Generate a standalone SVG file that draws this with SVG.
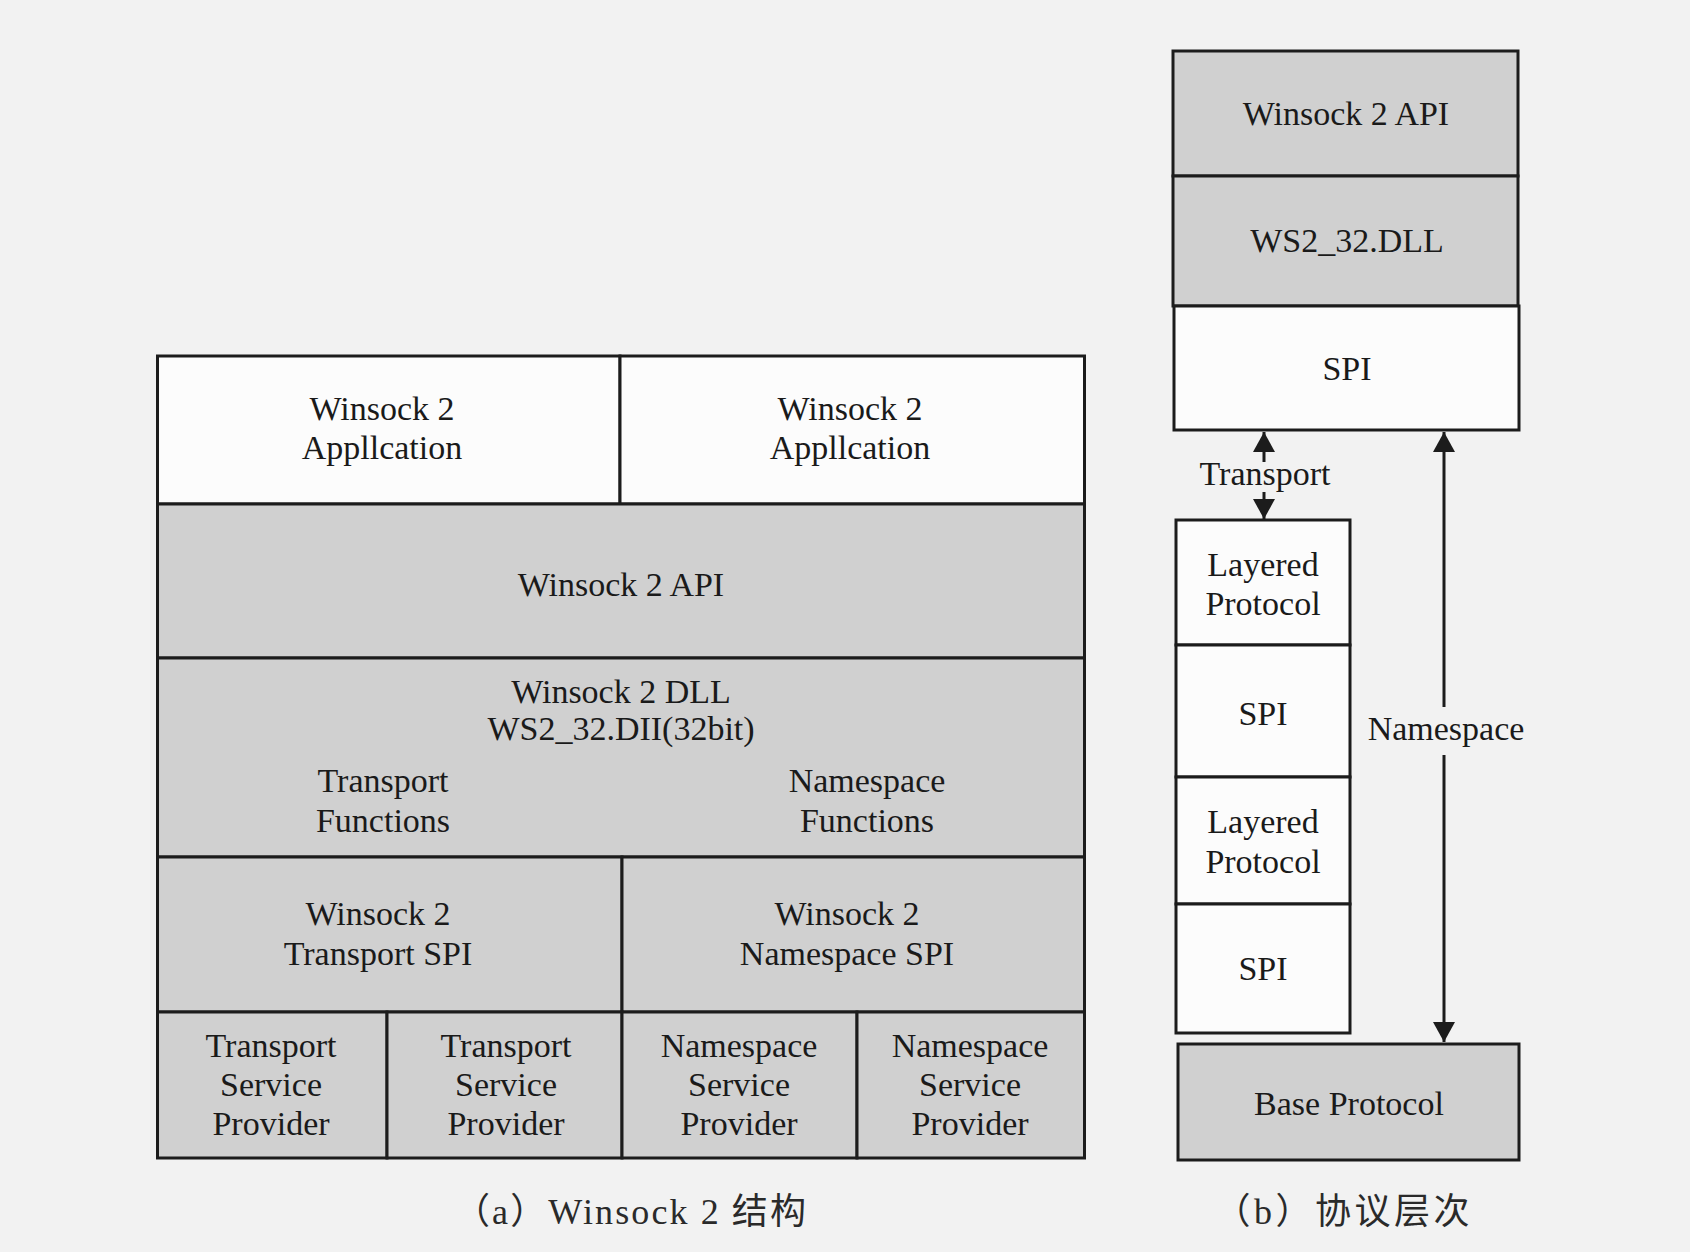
<svg xmlns="http://www.w3.org/2000/svg" width="1690" height="1252" viewBox="0 0 1690 1252">
  <defs>
    <marker id="head" markerUnits="userSpaceOnUse" markerWidth="24" markerHeight="24" refX="20" refY="11" orient="auto">
      <path d="M0,0 L20,11 L0,22 z" fill="#1c1c1c"/>
    </marker>
    <style>
      .box { stroke: #1c1c1c; stroke-width: 3; }
      .gray { fill: #d0d0d0; }
      .white { fill: #fcfcfc; }
      .t { font-family: 'Liberation Serif', 'Times New Roman', serif; font-size: 34px; fill: #1a1a1a; text-anchor: middle; }
      .cap { font-family: 'Liberation Serif', 'Noto Sans CJK SC', serif; font-size: 36px; fill: #2a2a2a; text-anchor: middle; }
      .conn { stroke: #1c1c1c; stroke-width: 3; fill: none; marker-end: url(#head); }
    </style>
  </defs>
  <rect x="0" y="0" width="1690" height="1252" fill="#f2f2f2"/>

  <!-- (a) Winsock 2 structure -->
  <g id="app1">
    <rect class="box white" x="157.5" y="356" width="462.5" height="148"/>
    <text class="t" x="382" y="420">Winsock 2</text>
    <text class="t" x="382" y="459">Appllcation</text>
  </g>
  <g id="app2">
    <rect class="box white" x="620" y="356" width="464.5" height="148"/>
    <text class="t" x="850" y="420">Winsock 2</text>
    <text class="t" x="850" y="459">Appllcation</text>
  </g>
  <g id="api">
    <rect class="box gray" x="157.5" y="504" width="927" height="154"/>
    <text class="t" x="621" y="596">Winsock 2 API</text>
  </g>
  <g id="dll">
    <rect class="box gray" x="157.5" y="658" width="927" height="199"/>
    <text class="t" x="621" y="703">Winsock 2 DLL</text>
    <text class="t" x="621" y="740">WS2_32.DII(32bit)</text>
    <text class="t" x="383" y="792">Transport</text>
    <text class="t" x="383" y="832">Functions</text>
    <text class="t" x="867" y="792">Namespace</text>
    <text class="t" x="867" y="832">Functions</text>
  </g>
  <g id="transport-spi">
    <rect class="box gray" x="157.5" y="857" width="464.5" height="155"/>
    <text class="t" x="378" y="925">Winsock 2</text>
    <text class="t" x="378" y="965">Transport SPI</text>
  </g>
  <g id="namespace-spi">
    <rect class="box gray" x="622" y="857" width="462.5" height="155"/>
    <text class="t" x="847" y="925">Winsock 2</text>
    <text class="t" x="847" y="965">Namespace SPI</text>
  </g>
  <g id="tsp1">
    <rect class="box gray" x="157.5" y="1012" width="229.5" height="146"/>
    <text class="t" x="271" y="1057">Transport</text>
    <text class="t" x="271" y="1096">Service</text>
    <text class="t" x="271" y="1135">Provider</text>
  </g>
  <g id="tsp2">
    <rect class="box gray" x="387" y="1012" width="235" height="146"/>
    <text class="t" x="506" y="1057">Transport</text>
    <text class="t" x="506" y="1096">Service</text>
    <text class="t" x="506" y="1135">Provider</text>
  </g>
  <g id="nsp1">
    <rect class="box gray" x="622" y="1012" width="235" height="146"/>
    <text class="t" x="739" y="1057">Namespace</text>
    <text class="t" x="739" y="1096">Service</text>
    <text class="t" x="739" y="1135">Provider</text>
  </g>
  <g id="nsp2">
    <rect class="box gray" x="857" y="1012" width="227.5" height="146"/>
    <text class="t" x="970" y="1057">Namespace</text>
    <text class="t" x="970" y="1096">Service</text>
    <text class="t" x="970" y="1135">Provider</text>
  </g>
  <text id="caption-a" class="cap" x="630" y="1224" textLength="352" lengthAdjust="spacing">（a）Winsock 2 结构</text>

  <!-- (b) protocol layers -->
  <g id="r-api">
    <rect class="box gray" x="1173" y="51" width="345" height="125"/>
    <text class="t" x="1346" y="125">Winsock 2 API</text>
  </g>
  <g id="r-dll">
    <rect class="box gray" x="1173" y="176" width="345" height="130"/>
    <text class="t" x="1347" y="252">WS2_32.DLL</text>
  </g>
  <g id="r-spi">
    <rect class="box white" x="1174" y="306" width="345" height="124"/>
    <text class="t" x="1347" y="380">SPI</text>
  </g>
  <g id="layered1">
    <rect class="box white" x="1176" y="520" width="174" height="125"/>
    <text class="t" x="1263" y="576">Layered</text>
    <text class="t" x="1263" y="615">Protocol</text>
  </g>
  <g id="spi1">
    <rect class="box white" x="1176" y="645" width="174" height="132"/>
    <text class="t" x="1263" y="725">SPI</text>
  </g>
  <g id="layered2">
    <rect class="box white" x="1176" y="777" width="174" height="127"/>
    <text class="t" x="1263" y="833">Layered</text>
    <text class="t" x="1263" y="873">Protocol</text>
  </g>
  <g id="spi2">
    <rect class="box white" x="1176" y="904" width="174" height="129"/>
    <text class="t" x="1263" y="980">SPI</text>
  </g>
  <g id="base">
    <rect class="box gray" x="1178" y="1044" width="341" height="116"/>
    <text class="t" x="1349" y="1115">Base Protocol</text>
  </g>

  <g id="connectors">
    <line class="conn" x1="1264" y1="462" x2="1264" y2="432"/>
    <line class="conn" x1="1264" y1="492" x2="1264" y2="519"/>
    <line class="conn" x1="1444" y1="707" x2="1444" y2="432"/>
    <line class="conn" x1="1444" y1="755" x2="1444" y2="1042"/>
    <text class="t" x="1265" y="485">Transport</text>
    <text class="t" x="1446" y="740">Namespace</text>
  </g>
  <text id="caption-b" class="cap" x="1342" y="1224" textLength="255" lengthAdjust="spacing">（b）协议层次</text>
</svg>
